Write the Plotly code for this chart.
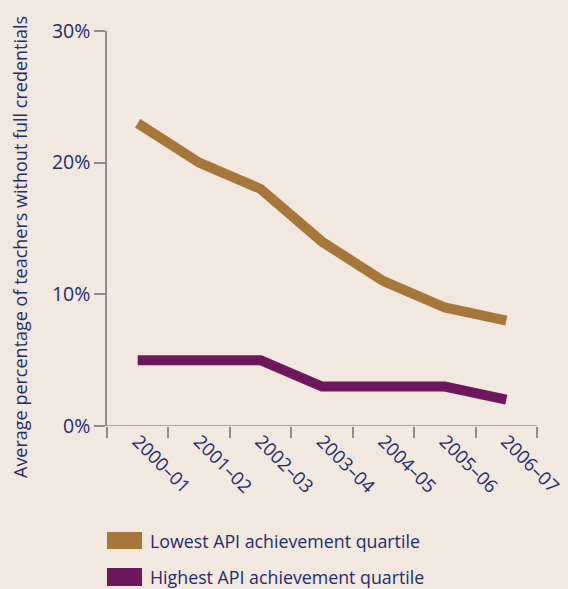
import plotly.graph_objects as go

years = ["2000–01", "2001–02", "2002–03", "2003–04", "2004–05", "2005–06", "2006–07"]
lowest = [23, 20, 18, 14, 11, 9, 8]
highest = [5, 5, 5, 3, 3, 3, 2]
y_ticks = [0, 10, 20, 30]
y_tick_labels = ["0%", "10%", "20%", "30%"]
series_names = ["Lowest API achievement quartile", "Highest API achievement quartile"]
colors = ["#a7763a", "#6e175c"]

BG = "#f2e8df"
NAVY = "#1f2d6c"
GRAY = "#8c8c8c"
FONT = "Open Sans"

fig = go.Figure()
for vals, c, n in zip([lowest, highest], colors, series_names):
    fig.add_trace(go.Scatter(x=years, y=vals, mode="lines", name=n,
                             line=dict(color=c, width=10), showlegend=False))

L, R, T, B = 107, 31, 31, 163
W, H = 568, 589
pw = W - L - R
ph = H - T - B

fig.update_layout(
    width=W, height=H,
    margin=dict(l=L, r=R, t=T, b=B, pad=0, autoexpand=False),
    paper_bgcolor=BG, plot_bgcolor=BG,
    font=dict(family=FONT, color=NAVY, size=17),
    xaxis=dict(type="category", range=[-0.5, 6.5], showgrid=False, zeroline=False,
               showline=False, ticks="outside", ticklen=11, tickcolor=GRAY, tickwidth=1.5,
               tickson="boundaries", tickangle=45, automargin=False,
               tickfont=dict(size=18.5, color=NAVY)),
    yaxis=dict(range=[0, 30], tickvals=y_ticks, ticktext=y_tick_labels, showgrid=False,
               zeroline=False, showline=True, linecolor=GRAY, linewidth=1.5,
               ticks="outside", ticklen=11, tickcolor=GRAY, tickwidth=1.5, automargin=False,
               tickfont=dict(size=19.5, color=NAVY)),
)

# x axis line extending slightly left of y axis
fig.add_shape(type="line", xref="paper", yref="y", x0=-11 / pw, x1=1, y0=0, y1=0,
              line=dict(color=GRAY, width=1.5))

# y axis title
fig.add_annotation(text="Average percentage of teachers without full credentials",
                   xref="paper", yref="paper", x=(20 - L) / pw, y=(T + ph - 247) / ph,
                   xanchor="center", yanchor="middle", textangle=-90, showarrow=False,
                   font=dict(size=18, color=NAVY, family=FONT))

# manual legend
legend_rows = [(532, 549, 541), (568, 586, 577)]
for c, n, (top, bot, yc) in zip(colors, series_names, legend_rows):
    fig.add_shape(type="rect", xref="paper", yref="paper",
                  x0=0, x1=35 / pw, y0=(T + ph - bot) / ph, y1=(T + ph - top) / ph,
                  fillcolor=c, line=dict(width=0))
    fig.add_annotation(text=n, xref="paper", yref="paper", x=41 / pw,
                       y=(T + ph - yc) / ph, xanchor="left", yanchor="middle",
                       showarrow=False, font=dict(size=17.8, color=NAVY, family=FONT))

fig.write_html("out.html", config={"displayModeBar": False})

with open("out.html", encoding="utf-8") as f:
    html = f.read()
html = html.replace("<head>", "<head><style>html,body{margin:0;padding:0;background:%s;}</style>" % BG, 1)
with open("out.html", "w", encoding="utf-8") as f:
    f.write(html)
